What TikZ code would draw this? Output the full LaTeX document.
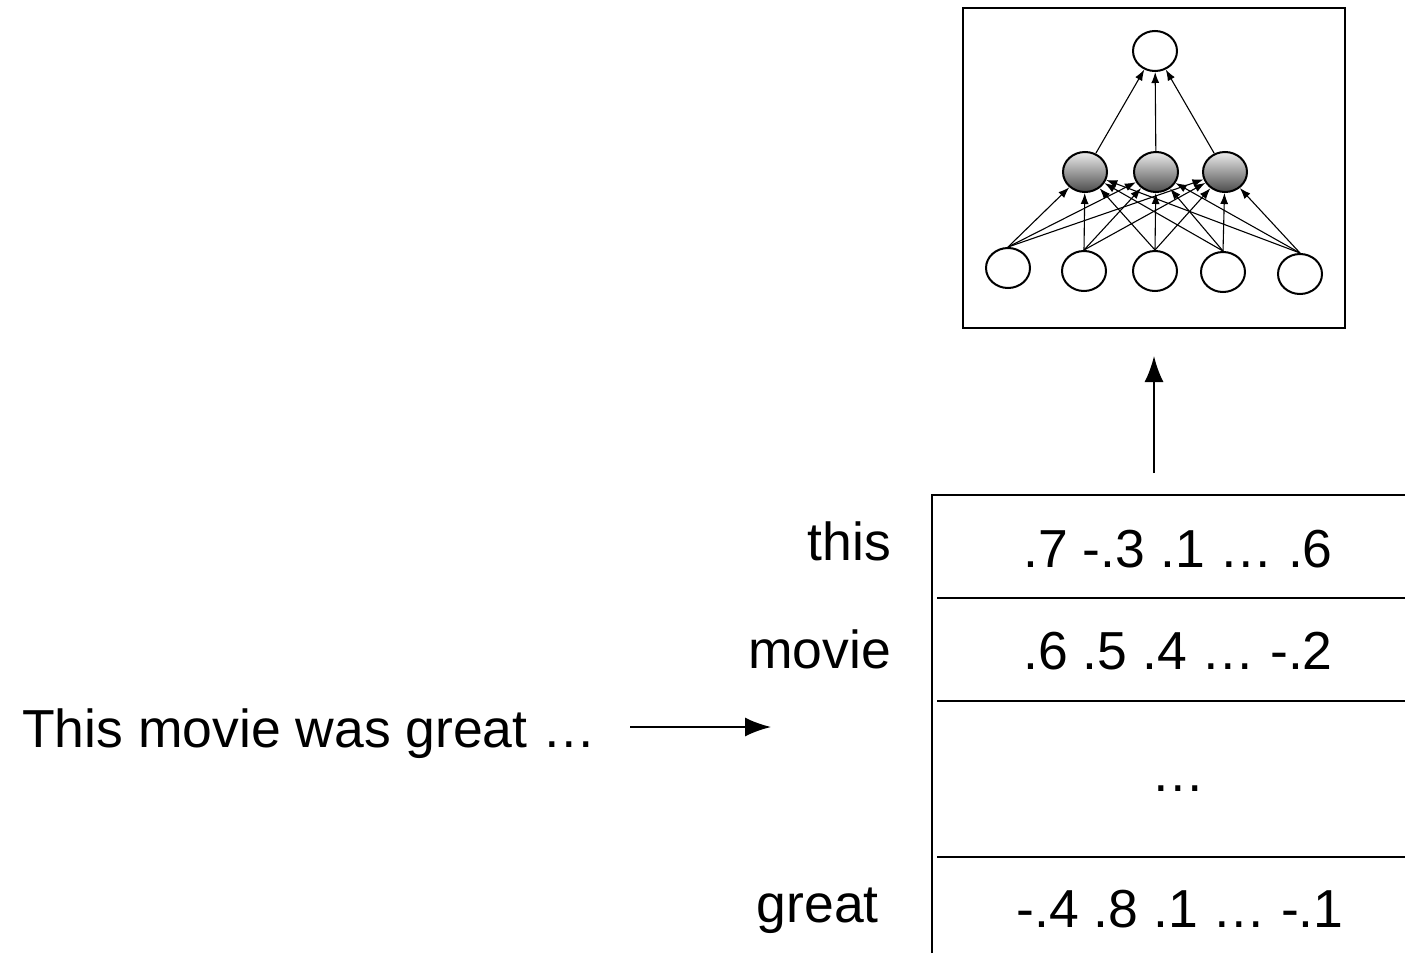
\documentclass[tikz,border=0pt]{standalone}
\usepackage{fontspec}
\setmainfont{Liberation Sans}
\usetikzlibrary{arrows.meta,shapes.geometric}

\tikzset{
  lbl/.style={font=\fontsize{53.5}{64}\selectfont, inner sep=0pt},
  unit/.style={draw, ellipse, line width=2pt, minimum width=44pt, minimum height=40pt, inner sep=0pt, fill=white},
  hid/.style={draw, ellipse, line width=2pt, minimum width=44pt, minimum height=40pt, inner sep=0pt, top color=gray!15, bottom color=black!70},
  link/.style={-{Latex[length=11pt,width=8pt]}, line width=1.1pt},
  bigarrow/.style={-{Latex[length=26pt,width=19pt]}, line width=2pt}
}

\begin{document}
\begin{tikzpicture}[x=1pt,y=-1pt]
\useasboundingbox (0,0) rectangle (1405,953);

% the small network
\node[draw, line width=2pt, minimum width=382pt, minimum height=320pt] (net) at (1154,168) {};
\node[unit] (out) at (1155,51) {};
\foreach \x [count=\i] in {1085,1156,1225}
  \node[hid] (h\i) at (\x,172) {};
\foreach \x/\y [count=\i] in {1008/268,1084/271,1155/271,1223/272,1300/274}
  \node[unit] (in\i) at (\x,\y) {};
\foreach \i in {1,...,5}
  \foreach \j in {1,2,3}
    \draw[link] (in\i.north) -- (h\j);
\foreach \j in {1,2,3}
  \draw[link] (h\j) -- (out);

% embedding table
\draw[line width=2pt] (932,953) |- (1405,495);
\foreach \y in {598,701,857}
  \draw[line width=2pt] (937,\y) -- (1405,\y);

\node[lbl, anchor=base] (r1) at (1178,567) {.7 -.3 .1 … .6};
\node[lbl, anchor=base] (r2) at (1178,669) {.6 .5 .4 … -.2};
\node[lbl, anchor=base] (r3) at (1178,791) {…};
\node[lbl, anchor=base] (r4) at (1180,927) {-.4 .8 .1 … -.1};

\node[lbl, anchor=base east] (w1) at (891,560) {this};
\node[lbl, anchor=base east] (w2) at (891,668) {movie};
\node[lbl, anchor=base east] (w3) at (879,922) {great};

\node[lbl, anchor=base west] (sent) at (22,747) {This movie was great …};

% arrows
\coordinate (a0) at (630,727);
\coordinate (a1) at (771,727);
\draw[bigarrow] (a0) -- (a1);
\coordinate (tabtop) at (1154,473);
\draw[bigarrow, shorten >=27pt] (tabtop) -- (net.south);
\end{tikzpicture}
\end{document}
